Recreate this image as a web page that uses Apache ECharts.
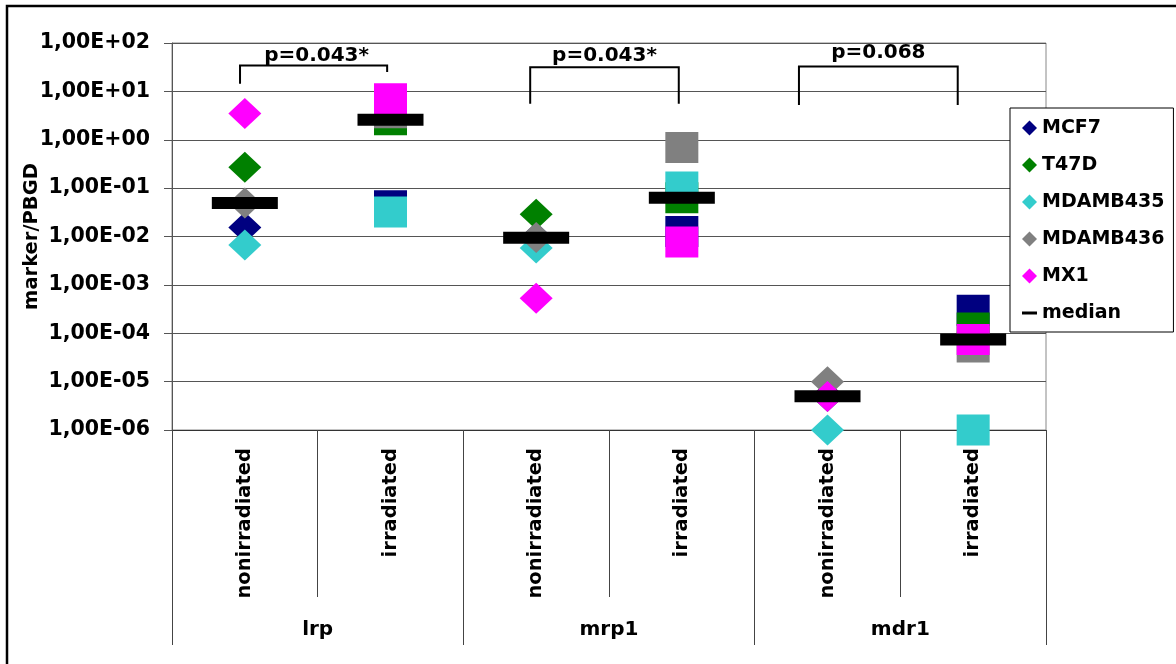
<!DOCTYPE html>
<html>
<head>
<meta charset="utf-8">
<script src="https://cdn.jsdelivr.net/npm/echarts@6/dist/echarts.min.js"></script>
<style>
  html, body { margin: 0; padding: 0; background: #ffffff; }
  #chart { width: 1176px; height: 664px; }
</style>
</head>
<body>
<div id="chart"></div>
<script>
// Categories: treatment condition per marker gene
const conditions = ['nonirradiated', 'irradiated', 'nonirradiated', 'irradiated', 'nonirradiated', 'irradiated'];
const markerGenes = ['lrp', 'mrp1', 'mdr1'];
const yTickLabels = ['1,00E-06', '1,00E-05', '1,00E-04', '1,00E-03', '1,00E-02',
                     '1,00E-01', '1,00E+00', '1,00E+01', '1,00E+02'];

// marker/PBGD expression per cell line (order follows `conditions`)
const MCF7      = [0.0153, 0.043, 0.0094, 0.0127, 5.0e-6, 3.0e-4];
const T47D      = [0.27,   2.6,   0.0288, 0.063,  5.0e-6, 1.28e-4];
const MDAMB435  = [0.0067, 0.0322, 0.0058, 0.105, 1.0e-6, 1.0e-6];
const MDAMB436  = [0.049,  3.6,   0.0095, 0.69,   1.0e-5, 5.2e-5];
const MX1       = [3.5,    7.0,   0.00053, 0.0077, 4.9e-6, 7.4e-5];
const medians   = [0.049,  2.6,   0.0094, 0.063,  5.0e-6, 7.4e-5];

// significance brackets between the two conditions of each gene
const pValues = ['p=0.043*', 'p=0.043*', 'p=0.068'];
const brackets = [
  { from: 0, to: 1, fromShift: -0.033, toShift: -0.023, top: 34.4, legFrom: 14.4, legTo: 25.1, labelAt: 54 },
  { from: 2, to: 3, fromShift: -0.041, toShift: -0.021, top: 31.6, legFrom: 5.57, legTo: 5.57, labelAt: 55 },
  { from: 4, to: 5, fromShift: -0.196, toShift: -0.106, top: 32.5, legFrom: 5.25, legTo: 5.25, labelAt: 64 }
];

const FONT = '"DejaVu Sans", "Liberation Sans", Arial, sans-serif';

const cellLines = [
  { name: 'MCF7',     values: MCF7,     color: '#000080' },
  { name: 'T47D',     values: T47D,     color: '#008000' },
  { name: 'MDAMB435', values: MDAMB435, color: '#33CCCC' },
  { name: 'MDAMB436', values: MDAMB436, color: '#808080' },
  { name: 'MX1',      values: MX1,      color: '#FF00FF' }
];

const scatterSeries = cellLines.map(c => ({
  name: c.name,
  type: 'scatter',
  xAxisIndex: 0,
  yAxisIndex: 0,
  clip: false,
  symbolSize: [33, 31],
  itemStyle: { color: c.color, opacity: 1 },
  emphasis: { disabled: true },
  data: c.values.map((v, i) => ({
    value: [i, v],
    symbol: conditions[i] === 'irradiated' ? 'rect' : 'diamond'
  }))
}));

const medianSeries = {
  name: 'median',
  type: 'scatter',
  xAxisIndex: 0,
  yAxisIndex: 0,
  clip: false,
  symbol: 'rect',
  symbolSize: [66, 12],
  itemStyle: { color: '#000000', opacity: 1 },
  emphasis: { disabled: true },
  data: medians.map((v, i) => [i, v])
};

const bracketSeries = {
  type: 'custom',
  xAxisIndex: 0,
  yAxisIndex: 0,
  silent: true,
  clip: false,
  data: brackets.map(b => [b.from, b.top]),
  renderItem: function (params, api) {
    const b = brackets[params.dataIndex];
    const band = api.size([1, 0])[0];
    const x1 = api.coord([b.from, b.top])[0] + b.fromShift * band;
    const x2 = api.coord([b.to, b.top])[0] + b.toShift * band;
    const yTop = api.coord([b.from, b.top])[1];
    const y1 = api.coord([b.from, b.legFrom])[1];
    const y2 = api.coord([b.to, b.legTo])[1];
    const yText = api.coord([b.from, b.labelAt])[1];
    return {
      type: 'group',
      children: [
        {
          type: 'polyline',
          shape: { points: [[x1, y1], [x1, yTop], [x2, yTop], [x2, y2]] },
          style: { stroke: '#000000', lineWidth: 2, fill: null }
        },
        {
          type: 'text',
          style: {
            text: pValues[params.dataIndex],
            x: (x1 + x2) / 2 + (params.dataIndex === 0 ? 3 : 0),
            y: yText,
            fill: '#000000',
            font: 'bold 20px ' + FONT,
            align: 'center',
            verticalAlign: 'middle'
          }
        }
      ]
    };
  }
};

const chart = echarts.init(document.getElementById('chart'), null, { renderer: 'canvas' });

chart.setOption({
  animation: false,
  backgroundColor: '#ffffff',
  textStyle: { fontFamily: FONT },
  graphic: [
    {
      type: 'rect',
      shape: { x: 7, y: 6, width: 1200, height: 700 },
      style: { fill: null, stroke: '#000000', lineWidth: 2.5 },
      silent: true,
      z: -1
    }
  ],
  grid: {
    left: 172, right: 130, top: 43, bottom: 234,
    show: true, borderColor: '#888888', borderWidth: 1, backgroundColor: 'transparent'
  },
  legend: {
    orient: 'vertical',
    left: 1010,
    top: 108,
    itemWidth: 15,
    itemHeight: 15,
    itemGap: 17,
    padding: [10, 9, 9, 12],
    borderColor: '#000000',
    borderWidth: 1,
    borderRadius: 0,
    backgroundColor: '#ffffff',
    selectedMode: false,
    textStyle: { fontFamily: FONT, fontWeight: 'bold', fontSize: 19, color: '#000000', lineHeight: 20 },
    data: cellLines.map(c => ({ name: c.name, icon: 'diamond' }))
      .concat([{ name: 'median', icon: 'path://M0,0 H15 V3 H0 Z' }])
  },
  xAxis: [
    {
      type: 'category',
      position: 'bottom',
      data: conditions,
      boundaryGap: true,
      axisLine: { show: true, lineStyle: { color: '#333333', width: 1 } },
      axisTick: { show: true, interval: 0, length: 167, lineStyle: { color: '#444444', width: 1 } },
      axisLabel: {
        interval: 0, rotate: 90, margin: 18,
        fontFamily: FONT, fontWeight: 'bold', fontSize: 19.5, color: '#000000'
      },
      splitLine: { show: false }
    },
    {
      type: 'category',
      position: 'bottom',
      data: markerGenes,
      boundaryGap: true,
      axisLine: { show: false },
      axisTick: { show: true, interval: 0, length: 215, lineStyle: { color: '#444444', width: 1 } },
      axisLabel: {
        interval: 0, margin: 190,
        fontFamily: FONT, fontWeight: 'bold', fontSize: 20, color: '#000000'
      },
      splitLine: { show: false }
    }
  ],
  yAxis: {
    type: 'log',
    logBase: 10,
    min: 1e-6,
    max: 100,
    name: 'marker/PBGD',
    nameLocation: 'middle',
    nameRotate: 90,
    nameGap: 130,
    nameMoveOverlap: false,
    nameTextStyle: { fontFamily: FONT, fontWeight: 'bold', fontSize: 19.5, color: '#000000' },
    axisLine: { show: true, lineStyle: { color: '#555555', width: 1 } },
    axisTick: { show: true, inside: false, length: 8, lineStyle: { color: '#555555' } },
    axisLabel: {
      margin: 22,
      fontFamily: FONT, fontWeight: 'bold', fontSize: 20.5, color: '#000000',
      formatter: function (v) {
        const idx = Math.round(Math.log10(v)) + 6;
        return yTickLabels[idx] || '';
      }
    },
    splitLine: { show: true, lineStyle: { color: '#555555', width: 1 } }
  },
  series: scatterSeries.concat([medianSeries, bracketSeries])
});
</script>
</body>
</html>
